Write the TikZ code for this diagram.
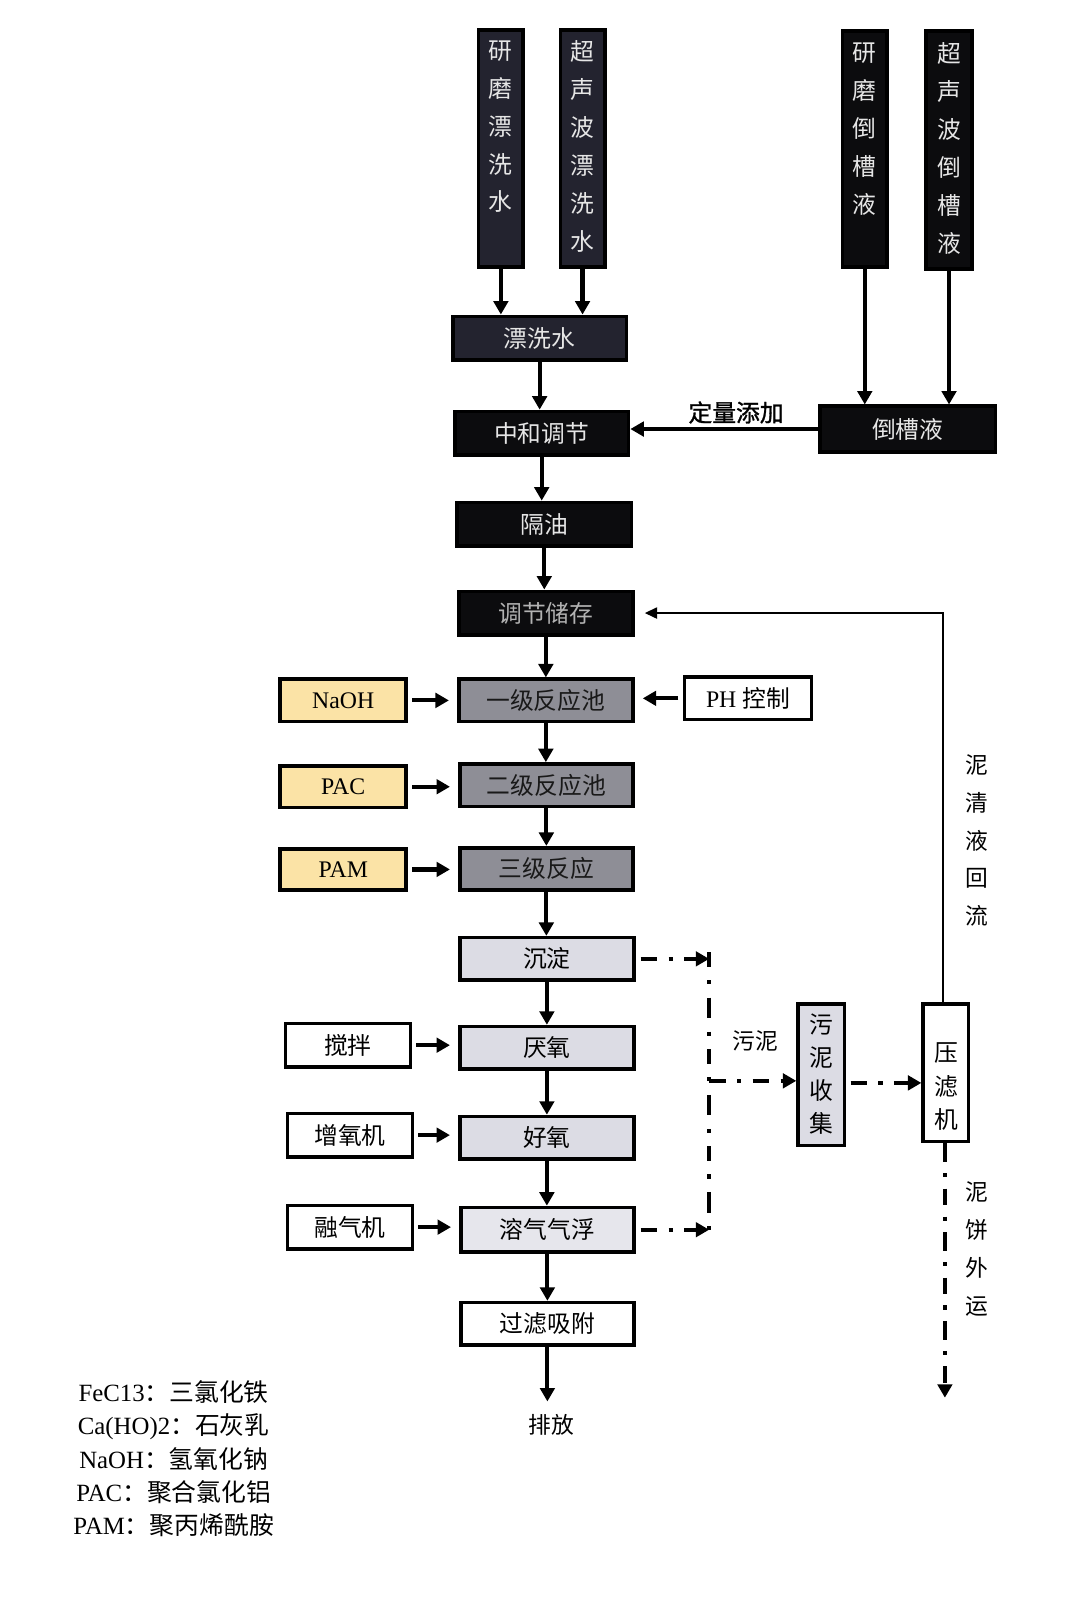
\documentclass[tikz,border=0pt]{standalone}
\usepackage{fontspec}
\setmainfont{Liberation Serif}
\newfontfamily\cjk{Noto Sans CJK SC}
\newfontfamily\cjkfb[FakeBold=1.2]{Noto Sans CJK SC}
\usetikzlibrary{arrows.meta}
\definecolor{navy}{HTML}{23232F}
\definecolor{blk}{HTML}{0C0C0E}
\definecolor{midgray}{HTML}{8E8E96}
\definecolor{lightlav}{HTML}{DCDCE4}
\definecolor{paleyel}{HTML}{FBE3A6}
\definecolor{softwhite}{HTML}{E6E6E6}
\begin{document}
\begin{tikzpicture}[x=1pt,y=-1pt,
  sz/.style 2 args={minimum width=#1pt, minimum height=#2pt},
  bx/.style={draw=black, line width=3.5pt, inner sep=0pt, align=center,
    font=\cjk\fontsize{23}{28}\selectfont},
  darkbox/.style={bx, fill=blk, text=softwhite},
  navybox/.style={bx, fill=navy, text=softwhite},
  graybox/.style={bx, fill=midgray, text=black!90},
  lavbox/.style={bx, fill=lightlav, text=black},
  whitebox/.style={bx, fill=white, text=black},
  yelbox/.style={bx, fill=paleyel, text=black, font=\fontsize{23}{28}\selectfont},
  vtext/.style={inner sep=0pt, align=center, text=softwhite,
    font=\cjk\fontsize{23}{36.7}\selectfont},
  lbl/.style={inner sep=0pt, align=center, text=black,
    font=\cjk\fontsize{22}{28}\selectfont},
  flow/.style={line width=4pt, -{Triangle[length=13pt,width=14pt]}},
  sarr/.style={flow, shorten <=4pt, shorten >=8pt},
  ret/.style={line width=1.5pt, -{Triangle[length=12pt,width=11pt]}, shorten >=10pt},
  dd/.style={line width=4pt, dash pattern=on 16pt off 11pt on 4pt off 11pt},
  ddarr/.style={dd, -{Triangle[length=13pt,width=14pt]}}
]
\useasboundingbox[fill=white] (0,0) rectangle (1036,1568);

% ---- top sources ----
\node[navybox, sz={43}{229}] (yx1) at (484.5,143.5) {};
\node[vtext, anchor=north] (yx1t) at (484.5,39) {研\\磨\\漂\\洗\\水};
\node[navybox, sz={43}{229}] (yx2) at (563.5,143.5) {};
\node[vtext, anchor=north] (yx2t) at (563.5,39) {超\\声\\波\\漂\\洗\\水};
\node[darkbox, sz={43}{228}] (dc1) at (836.5,144) {};
\node[vtext, anchor=north] (dc1t) at (836.5,41) {研\\磨\\倒\\槽\\液};
\node[darkbox, sz={44}{230}] (dc2) at (918,145) {};
\node[vtext, anchor=north] (dc2t) at (918,41) {超\\声\\波\\倒\\槽\\液};

% ---- main chain ----
\node[navybox, sz={168}{42}] (pxs) at (522,327) {漂洗水};
\node[darkbox, sz={168}{42}] (zh) at (524,419) {中和调节};
\node[darkbox, sz={170}{44}] (dcy) at (878,415) {倒槽液};
\node[darkbox, sz={169}{42}] (gy) at (526.5,507) {隔油};
\node[darkbox, sz={168}{42}, text=black!30] (tj) at (528,593) {调节储存};
\node[graybox, sz={168}{41}] (r1) at (528,677.5) {一级反应池};
\node[graybox, sz={167}{41}] (r2) at (528.5,759.5) {二级反应池};
\node[graybox, sz={167}{41}] (r3) at (528.5,840.5) {三级反应};
\node[lavbox, sz={168}{41}] (cd) at (529,927.5) {沉淀};
\node[lavbox, sz={168}{41}] (yy) at (529,1013.5) {厌氧};
\node[lavbox, sz={168}{41}] (hy) at (529,1100.5) {好氧};
\node[lavbox, sz={167}{43}, fill=lightlav!70] (rq) at (529.5,1189.5) {溶气气浮};
\node[whitebox, sz={167}{41}] (gl) at (529.5,1280.5) {过滤吸附};
\node[lbl] (pf) at (533,1378) {排放};

% ---- side inputs ----
\node[yelbox, sz={122}{41}] (naoh) at (332,677.5) {NaOH};
\node[whitebox, sz={123}{41}] (ph) at (723.5,675.5) {\fontspec{Liberation Serif}PH \cjk 控制};
\node[yelbox, sz={122}{40}] (pac) at (332,761) {PAC};
\node[yelbox, sz={122}{40}] (pam) at (332,841) {PAM};
\node[whitebox, sz={121}{42}] (jb) at (336.5,1011) {搅拌};
\node[whitebox, sz={121}{42}] (zyj) at (338.5,1098) {增氧机};
\node[whitebox, sz={121}{42}] (rqj) at (338.5,1187) {融气机};

% ---- sludge part ----
\node[lavbox, sz={45}{137}] (wn) at (794.5,1039.5) {};
\node[lbl, font=\cjk\fontsize{23}{32}\selectfont] (wnt) at (794.5,1039) {污\\泥\\收\\集};
\node[whitebox, sz={44}{133}] (ylj) at (915,1037.5) {};
\node[lbl, font=\cjk\fontsize{23}{32}\selectfont] (yljt) at (915,1051) {压\\滤\\机};
\node[lbl] (wnl) at (731,1007) {污泥};
\node[lbl, font=\cjk\fontsize{22}{36.3}\selectfont] (qy) at (945,813) {泥\\清\\液\\回\\流};
\node[lbl, font=\cjk\fontsize{22}{36.7}\selectfont] (nb) at (945,1208) {泥\\饼\\外\\运};
\node[lbl, font=\cjkfb\fontsize{23}{28}\selectfont] (dl) at (712,399) {定量添加};

\coordinate (vtop) at (686,921);
\coordinate (vbot) at (686,1196);
\coordinate (cakeend) at (914,1352);

% ---- legend ----
\node[inner sep=0pt, align=center, font=\fontsize{24}{32}\selectfont] (leg) at (168,1411)
  {FeC13{\cjk：三氯化铁}\\
   Ca(HO)2{\cjk：石灰乳}\\
   NaOH{\cjk：氢氧化钠}\\
   PAC{\cjk：聚合氯化铝}\\
   PAM{\cjk：聚丙烯酰胺}};

% ---- connectors ----
\draw[flow] (yx1.south) -- (yx1.south |- pxs.north);
\draw[flow] (yx2.south) -- (yx2.south |- pxs.north);
\draw[flow] (dc1.south) -- (dc1.south |- dcy.north);
\draw[flow] (dc2.south) -- (dc2.south |- dcy.north);
\draw[flow] (dcy.west) -- (dcy.west -| zh.east);
\draw[flow] (pxs.south) -- (pxs.south |- zh.north);
\draw[flow] (zh.south) -- (zh.south |- gy.north);
\draw[flow] (gy.south) -- (gy.south |- tj.north);
\draw[flow] (tj.south) -- (tj.south |- r1.north);
\draw[flow] (r1.south) -- (r1.south |- r2.north);
\draw[flow] (r2.south) -- (r2.south |- r3.north);
\draw[flow] (r3.south) -- (r3.south |- cd.north);
\draw[flow] (cd.south) -- (cd.south |- yy.north);
\draw[flow] (yy.south) -- (yy.south |- hy.north);
\draw[flow] (hy.south) -- (hy.south |- rq.north);
\draw[flow] (rq.south) -- (rq.south |- gl.north);
\draw[flow] (gl.south) -- ([yshift=12pt]gl.south |- pf.north);

\draw[sarr] (naoh.east) -- (naoh.east -| r1.west);
\draw[sarr] (ph.west) -- (ph.west -| r1.east);
\draw[sarr] (pac.east) -- (pac.east -| r2.west);
\draw[sarr] (pam.east) -- (pam.east -| r3.west);
\draw[sarr] (jb.east) -- (jb.east -| yy.west);
\draw[sarr] (zyj.east) -- (zyj.east -| hy.west);
\draw[sarr] (rqj.east) -- (rqj.east -| rq.west);

\draw[ret] ([xshift=-3pt]ylj.north) |- (tj.east);

\draw[dd, dash pattern=on 14pt off 13pt on 4pt off 13pt on 20pt off 13pt on 4pt off 13pt] (vtop) -- (vbot);
\draw[ddarr, shorten <=5pt] (cd.east) -- (cd.east -| vtop);
\draw[ddarr, shorten <=5pt] (rq.east) -- (rq.east -| vtop);
\draw[ddarr] ([yshift=-6pt]vtop |- wn.west) -- ([yshift=-6pt]wn.west);
\draw[ddarr, shorten <=4pt] ([yshift=-8pt]wn.east) -- ([yshift=-8pt]wn.east -| ylj.west);
\draw[ddarr, dash pattern=on 18pt off 11pt on 4pt off 11pt on 16pt off 11pt on 4pt off 11pt] ([xshift=-1pt]ylj.south) -- (cakeend);
\end{tikzpicture}
\end{document}
